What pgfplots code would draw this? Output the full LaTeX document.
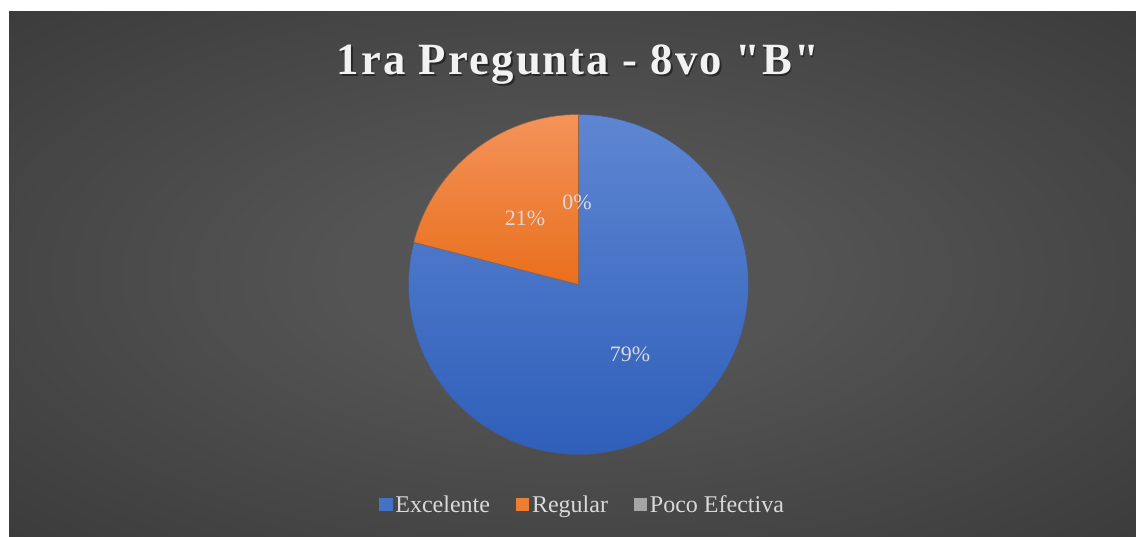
\documentclass[border=0pt]{standalone}
\usepackage{pgfplots}
\usepackage{pgfplotstable}
\pgfplotsset{compat=1.18}
\usepackage{fontspec}
\setmainfont{Liberation Serif}
\newfontfamily\titlefont[LetterSpace=4.8]{Liberation Serif}

\definecolor{bgin}{RGB}{84,84,84}
\definecolor{bgmid}{RGB}{46,46,46}
\definecolor{bgout}{RGB}{34,34,34}
\definecolor{excT}{RGB}{94,134,210}
\definecolor{excB}{RGB}{47,95,186}
\definecolor{excL}{RGB}{68,114,196}
\definecolor{excE}{RGB}{70,90,130}
\definecolor{regT}{RGB}{244,147,90}
\definecolor{regB}{RGB}{233,111,28}
\definecolor{regL}{RGB}{237,125,49}
\definecolor{regE}{RGB}{150,100,70}
\definecolor{pocL}{RGB}{165,165,165}
\definecolor{lbl}{RGB}{217,217,217}
\definecolor{ttl}{RGB}{242,242,242}

\pgfdeclareradialshading{bgshade}{\pgfpoint{0bp}{0bp}}{color(0bp)=(bgin); color(10bp)=(bgin); color(50bp)=(bgmid); color(72bp)=(bgout)}

\pgfplotstableread{
label value
Excelente 79
Regular 21
Poco 0
}\piedata

\begin{document}
\begin{tikzpicture}
\pgfplotstablegetelem{0}{value}\of\piedata \let\vA\pgfplotsretval
\pgfplotstablegetelem{1}{value}\of\piedata \let\vB\pgfplotsretval
\pgfplotstablegetelem{2}{value}\of\piedata \let\vC\pgfplotsretval
\pgfmathsetmacro{\aS}{90}
\pgfmathsetmacro{\aE}{90-3.6*\vA}
\pgfmathsetmacro{\bE}{\aE-3.6*\vB}
\begin{axis}[
  width=852pt, height=402pt, scale only axis,
  xmin=0, xmax=1136, ymin=0, ymax=536,
  hide axis, clip=false,
  legend columns=3,
  legend style={at={(axis cs:583,31)}, anchor=center, draw=none, fill=none,
    text=lbl, font=\fontsize{18}{20}\selectfont,
    nodes={inner sep=2pt},
    /tikz/every even column/.append style={column sep=17.5pt}},
  legend image code/.code={\fill[#1] (0pt,-4.6pt) rectangle (10pt,5.4pt);},
]
% background
\fill[white] (axis cs:0,0) rectangle (axis cs:1136,536);
\shade[shading=bgshade] (axis cs:9,0) rectangle (axis cs:1136,524);

% pie slices
\addplot[forget plot, top color=excT, bottom color=excB, draw=excE, line width=0.4pt,
  domain=\aS:\aE, samples=181, variable=\t]
  ({578.5+170*cos(\t)}, {251.5+170*sin(\t)}) -- (axis cs:578.5,251.5) -- cycle;
\addplot[forget plot, top color=regT, bottom color=regB, draw=regE, line width=0.4pt,
  domain=\aE:\bE, samples=61, variable=\t]
  ({578.5+170*cos(\t)}, {251.5+170*sin(\t)}) -- (axis cs:578.5,251.5) -- cycle;

\addlegendimage{fill=excL, draw=none}
\addlegendentry{Excelente}
\addlegendimage{fill=regL, draw=none}
\addlegendentry{Regular}
\addlegendimage{fill=pocL, draw=none}
\addlegendentry{Poco Efectiva}

% data labels
\node[text=lbl, font=\fontsize{16.5}{18}\selectfont] at (axis cs:630,182) {\vA\%};
\node[text=lbl, font=\fontsize{16.5}{18}\selectfont] at (axis cs:525,318) {\vB\%};
\node[text=lbl, font=\fontsize{16.5}{18}\selectfont] at (axis cs:577,334) {\vC\%};

% title with shadow
\node[text=black, opacity=0.45, font=\titlefont\bfseries\fontsize{33.5}{38}\selectfont] at (axis cs:579.5,469.5) {1ra Pregunta - 8vo "B"};
\node[text=ttl, font=\titlefont\bfseries\fontsize{33.5}{38}\selectfont] at (axis cs:578,471) {1ra Pregunta - 8vo "B"};
\end{axis}
\end{tikzpicture}
\end{document}
